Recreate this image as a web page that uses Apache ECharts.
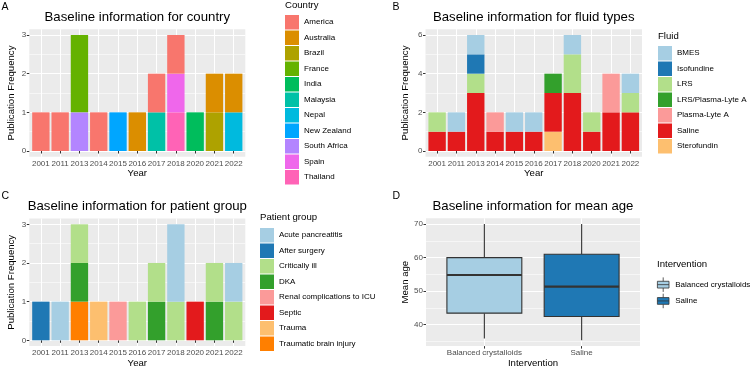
<!DOCTYPE html>
<html>
<head>
<meta charset="utf-8">
<script src="https://cdn.jsdelivr.net/npm/echarts@6.0.0/dist/echarts.min.js"></script>
<style>
  html, body { margin: 0; padding: 0; background: #fff; }
  #chart { width: 753px; height: 371px; }
</style>
</head>
<body>
<div id="chart"></div>
<script>
var years = ['2001', '2011', '2013', '2014', '2015', '2016', '2017', '2018', '2020', '2021', '2022'];

// A: country (one row per country, one value per year)
var countries = ['America', 'Australia', 'Brazil', 'France', 'India', 'Malaysia', 'Nepal', 'New Zealand', 'South Africa', 'Spain', 'Thailand'];
var countryCounts = [
  [1, 1, 0, 1, 0, 0, 1, 1, 0, 0, 0],
  [0, 0, 0, 0, 0, 1, 0, 0, 0, 1, 1],
  [0, 0, 0, 0, 0, 0, 0, 0, 0, 1, 0],
  [0, 0, 2, 0, 0, 0, 0, 0, 0, 0, 0],
  [0, 0, 0, 0, 0, 0, 0, 0, 1, 0, 0],
  [0, 0, 0, 0, 0, 0, 1, 0, 0, 0, 0],
  [0, 0, 0, 0, 0, 0, 0, 0, 0, 0, 1],
  [0, 0, 0, 0, 1, 0, 0, 0, 0, 0, 0],
  [0, 0, 1, 0, 0, 0, 0, 0, 0, 0, 0],
  [0, 0, 0, 0, 0, 0, 0, 1, 0, 0, 0],
  [0, 0, 0, 0, 0, 0, 0, 1, 0, 0, 0]
];
var countTicks = [0, 1, 2, 3];

// B: fluid types
var fluids = ['BMES', 'Isofundine', 'LRS', 'LRS/Plasma-Lyte A', 'Plasma-Lyte A', 'Saline', 'Sterofundin'];
var fluidCounts = [
  [0, 1, 1, 0, 1, 1, 0, 1, 0, 0, 1],
  [0, 0, 1, 0, 0, 0, 0, 0, 0, 0, 0],
  [1, 0, 1, 0, 0, 0, 0, 2, 1, 0, 1],
  [0, 0, 0, 0, 0, 0, 1, 0, 0, 0, 0],
  [0, 0, 0, 1, 0, 0, 0, 0, 0, 2, 0],
  [1, 1, 3, 1, 1, 1, 2, 3, 1, 2, 2],
  [0, 0, 0, 0, 0, 0, 1, 0, 0, 0, 0]
];
var fluidTicks = [0, 2, 4, 6];

// C: patient groups
var groups = ['Acute pancreatitis', 'After surgery', 'Critically ill', 'DKA', 'Renal complications to ICU', 'Septic', 'Trauma', 'Traumatic brain injury'];
var groupCounts = [
  [0, 1, 0, 0, 0, 0, 0, 2, 0, 0, 1],
  [1, 0, 0, 0, 0, 0, 0, 0, 0, 0, 0],
  [0, 0, 1, 0, 0, 1, 1, 1, 0, 1, 1],
  [0, 0, 1, 0, 0, 0, 1, 0, 0, 1, 0],
  [0, 0, 0, 0, 1, 0, 0, 0, 0, 0, 0],
  [0, 0, 0, 0, 0, 0, 0, 0, 1, 0, 0],
  [0, 0, 0, 1, 0, 0, 0, 0, 0, 0, 0],
  [0, 0, 1, 0, 0, 0, 0, 0, 0, 0, 0]
];

// D: mean age by intervention (boxplot stats)
var interventions = ['Balanced crystalloids', 'Saline'];
var ageMin = [35.8, 35.3];
var ageQ1 = [43.4, 42.4];
var ageMedian = [54.8, 51.3];
var ageQ3 = [60.0, 61.0];
var ageMax = [70.0, 70.0];
var ageTicks = [40, 50, 60, 70];

var hueColors = ['#F8766D', '#DB8E00', '#AEA200', '#64B200', '#00BD5C', '#00C1A7', '#00BADE', '#00A6FF', '#B385FF', '#EF67EB', '#FF63B6'];
var pairedColors = ['#A6CEE3', '#1F78B4', '#B2DF8A', '#33A02C', '#FB9A99', '#E31A1C', '#FDBF6F', '#FF7F00'];
var fluidColors = ['#A6CEE3', '#1F78B4', '#B2DF8A', '#33A02C', '#FB9A99', '#E31A1C', '#FDBF6F'];

var font = '"Liberation Sans", Arial, sans-serif';
var labelColor = '#4D4D4D';
var tickColor = '#333333';

var chart = echarts.init(document.getElementById('chart'));

function minorBreaks(breaks, lo, hi) {
  var step = breaks[1] - breaks[0];
  var out = [breaks[0] - step / 2];
  breaks.forEach(function (b) { out.push(b + step / 2); });
  return out.filter(function (v) { return v > lo && v < hi; });
}

function padRange(lo, hi) {
  var d = (hi - lo) * 0.05;
  return [lo - d, hi + d];
}

var grids = [
  { left: 29.3, top: 29.2, width: 216, height: 127.6 },
  { left: 425.5, top: 29.2, width: 216.5, height: 127.6 },
  { left: 29.3, top: 218.5, width: 216, height: 127.6 },
  { left: 426, top: 218.3, width: 214, height: 127.8 }
].map(function (g) {
  g.show = true;
  g.backgroundColor = '#EBEBEB';
  g.borderWidth = 0;
  g.containLabel = false;
  return g;
});

var xAxes = [], yAxes = [], series = [], legends = [], titles = [];

function xAxisFor(gridIndex, cats, name, nameGap) {
  var pos = cats.map(function (c, i) { return i + 1; });
  return {
    type: 'value', gridIndex: gridIndex, min: 0.4, max: cats.length + 0.6,
    name: name, nameLocation: 'middle', nameGap: nameGap,
    nameTextStyle: { fontSize: 9.6, color: '#000', fontFamily: font },
    axisLine: { show: false },
    axisTick: { show: true, length: 2.5, lineStyle: { color: tickColor }, customValues: pos },
    axisLabel: {
      customValues: pos, fontSize: 8, color: labelColor, margin: 3, fontFamily: font,
      formatter: function (v) { return cats[Math.round(v) - 1]; }
    },
    splitLine: { show: true, lineStyle: { color: '#fff', width: 1.1 } }
  };
}

function yAxesFor(gridIndex, range, breaks, name, nameGap) {
  var minor = {
    type: 'value', gridIndex: gridIndex, min: range[0], max: range[1], position: 'right',
    axisLine: { show: false },
    axisTick: { show: false, customValues: minorBreaks(breaks, range[0], range[1]) },
    axisLabel: { show: false },
    splitLine: { show: true, lineStyle: { color: '#fff', width: 0.55 } }
  };
  var major = {
    type: 'value', gridIndex: gridIndex, min: range[0], max: range[1], position: 'left',
    name: name, nameLocation: 'middle', nameGap: nameGap,
    nameTextStyle: { fontSize: 9.6, color: '#000', fontFamily: font },
    axisLine: { show: false },
    axisTick: { show: true, length: 2.5, lineStyle: { color: tickColor }, customValues: breaks },
    axisLabel: { customValues: breaks, fontSize: 8, color: labelColor, margin: 3, fontFamily: font },
    splitLine: { show: true, lineStyle: { color: '#fff', width: 1.1 } }
  };
  yAxes.push(minor);
  yAxes.push(major);
  return yAxes.length - 1;
}

function barPanel(p, names, counts, colors, breaks, yNameGap, legendPos) {
  var totals = years.map(function (y, j) {
    return counts.reduce(function (s, row) { return s + row[j]; }, 0);
  });
  var range = padRange(0, Math.max.apply(null, totals));
  xAxes.push(xAxisFor(p, years, 'Year', 11));
  var yi = yAxesFor(p, range, breaks, 'Publication Frequency', yNameGap);
  // ggplot puts the first level on top, so stack from the last level up.
  // The count is kept in the first column so that it is the stacked dimension.
  for (var i = names.length - 1; i >= 0; i--) {
    series.push({
      type: 'bar', name: names[i], xAxisIndex: p, yAxisIndex: yi, stack: 'panel' + p,
      barWidth: '90%', itemStyle: { color: colors[i] },
      encode: { x: 1, y: 0 },
      data: counts[i].map(function (v, j) { return [v, j + 1]; })
    });
  }
  legends.push({
    orient: 'vertical', left: legendPos[0], top: legendPos[1], padding: 0,
    itemWidth: 14, itemHeight: 14.5, itemGap: 1, icon: 'rect', selectedMode: false,
    data: names, textStyle: { fontSize: 8, color: '#000', fontFamily: font }
  });
}

barPanel(0, countries, countryCounts, hueColors, countTicks, 12.5, [285, 15]);
barPanel(1, fluids, fluidCounts, fluidColors, fluidTicks, 15, [658, 46]);
barPanel(2, groups, groupCounts, pairedColors, countTicks, 12.5, [260, 228]);

// D: boxplots drawn with a custom series so the whiskers have no end caps
var ageRange = padRange(Math.min.apply(null, ageMin), Math.max.apply(null, ageMax));
xAxes.push(xAxisFor(3, interventions, 'Intervention', 11));
var ageAxis = yAxesFor(3, ageRange, ageTicks, 'Mean age', 15.5);

function renderBox(params, api) {
  var x = api.value(0);
  var half = api.size([0.77, 0])[0] / 2;
  var lo = api.coord([x, api.value(1)]);
  var q1 = api.coord([x, api.value(2)]);
  var med = api.coord([x, api.value(3)]);
  var q3 = api.coord([x, api.value(4)]);
  var hi = api.coord([x, api.value(5)]);
  return {
    type: 'group',
    children: [
      { type: 'line', shape: { x1: lo[0], y1: lo[1], x2: q1[0], y2: q1[1] }, style: { stroke: tickColor, lineWidth: 1.1 } },
      { type: 'line', shape: { x1: q3[0], y1: q3[1], x2: hi[0], y2: hi[1] }, style: { stroke: tickColor, lineWidth: 1.1 } },
      { type: 'rect', shape: { x: q1[0] - half, y: q3[1], width: half * 2, height: q1[1] - q3[1] },
        style: { fill: api.visual('color'), stroke: tickColor, lineWidth: 1.1 } },
      { type: 'line', shape: { x1: med[0] - half, y1: med[1], x2: med[0] + half, y2: med[1] }, style: { stroke: tickColor, lineWidth: 2.2 } }
    ]
  };
}

var boxColors = ['#A6CEE3', '#1F78B4'];
interventions.forEach(function (name, i) {
  series.push({
    type: 'custom', name: name, xAxisIndex: 3, yAxisIndex: ageAxis,
    itemStyle: { color: boxColors[i] },
    renderItem: renderBox,
    encode: { x: 0, y: [1, 2, 3, 4, 5] },
    data: [[i + 1, ageMin[i], ageQ1[i], ageMedian[i], ageQ3[i], ageMax[i]]]
  });
});
legends.push({
  orient: 'vertical', left: 657, top: 277, padding: 0,
  itemWidth: 14, itemHeight: 14.5, itemGap: 1, selectedMode: false,
  icon: 'path://M7,0V4 M1,4H13V11H1Z M1,7.5H13 M7,11V15',
  data: interventions.map(function (name, i) {
    return { name: name, itemStyle: { color: boxColors[i], borderColor: tickColor, borderWidth: 0.8 } };
  }),
  textStyle: { fontSize: 8, color: '#000', fontFamily: font }
});

function addTitle(text, x, y, size, align) {
  titles.push({
    text: text, left: x, top: y, padding: 0, textAlign: align || 'left',
    textStyle: { fontSize: size, fontWeight: 'normal', color: '#000', fontFamily: font }
  });
}
addTitle('A', 1.5, 2, 10.5);
addTitle('B', 392.5, 2, 10.5);
addTitle('C', 1.5, 190.5, 10.5);
addTitle('D', 392.5, 190.5, 10.5);
addTitle('Baseline information for country', 137.3, 10.5, 13.2, 'center');
addTitle('Baseline information for fluid types', 533.7, 10.5, 13.2, 'center');
addTitle('Baseline information for patient group', 137.3, 199.5, 13.2, 'center');
addTitle('Baseline information for mean age', 533, 199.5, 13.2, 'center');
addTitle('Country', 285, 0.5, 9.6);
addTitle('Fluid', 658, 31, 9.6);
addTitle('Patient group', 260, 212.5, 9.6);
addTitle('Intervention', 657, 259.5, 9.6);

var option = {
  animation: false,
  textStyle: { fontFamily: font },
  title: titles,
  grid: grids,
  xAxis: xAxes,
  yAxis: yAxes,
  legend: legends,
  series: series
};

option && chart.setOption(option);
</script>
</body>
</html>
